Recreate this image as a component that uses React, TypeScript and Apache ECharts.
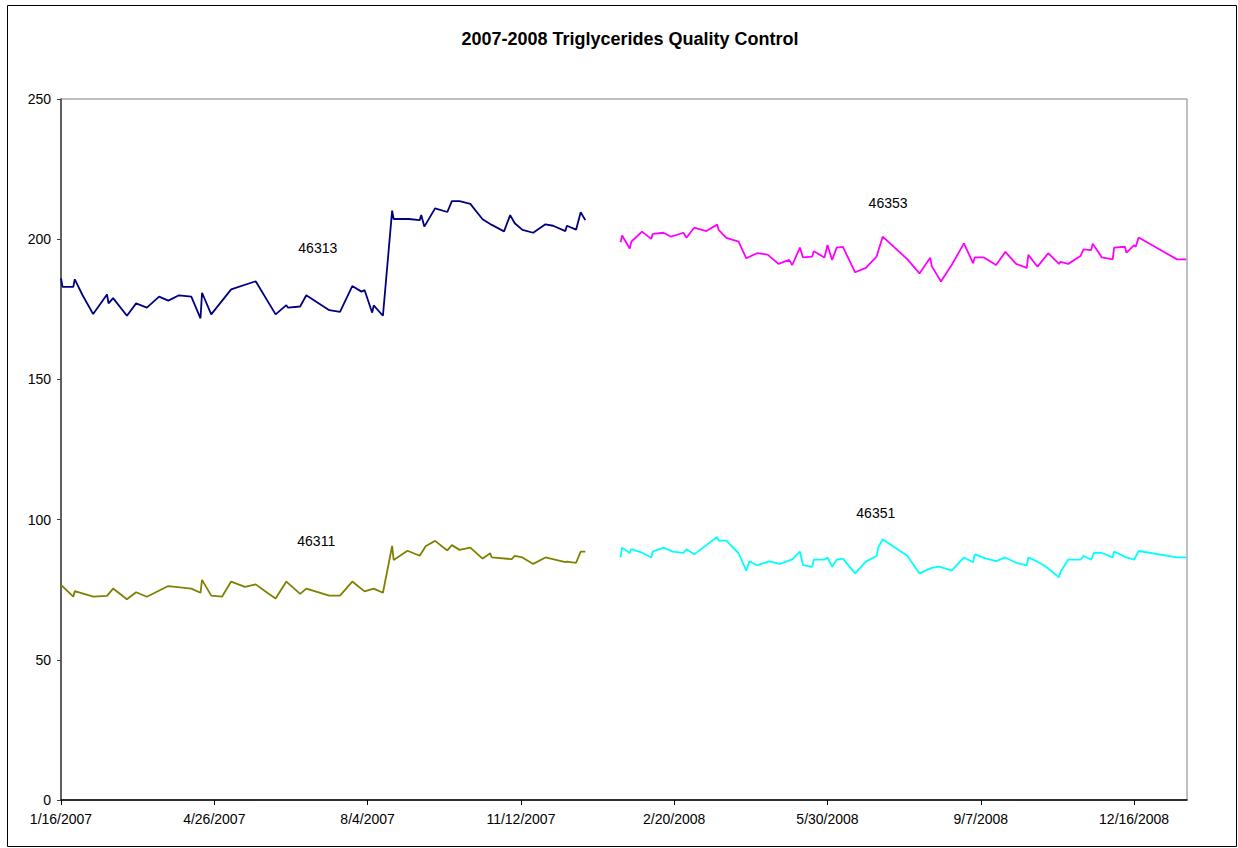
import React, { useEffect, useRef } from "react";
import * as echarts from "echarts";

// x values: days since 1/16/2007
const s46313Days = [0, 1, 8, 9, 14, 21, 30, 31, 34, 43, 49, 56, 64, 70, 77, 85, 91, 92, 98, 111, 127, 140, 147, 148, 156, 160, 175, 182, 190, 196, 198, 203, 204, 210, 216, 217, 227, 234, 235, 237, 244, 252, 255, 260, 267, 275, 281, 289, 293, 296, 301, 308, 316, 321, 329, 330, 336, 339, 342];
const s46313Values = [186.0, 183.0, 183.0, 185.7, 180.1, 173.3, 180.3, 177.1, 179.0, 172.7, 177.1, 175.6, 179.5, 178.1, 180.0, 179.5, 171.8, 180.9, 173.2, 182.1, 185.0, 173.2, 176.5, 175.6, 176.0, 180.0, 174.7, 174.1, 183.3, 181.3, 181.9, 173.8, 176.4, 172.7, 210.2, 207.2, 207.2, 206.8, 208.6, 204.5, 211.0, 209.7, 213.6, 213.6, 212.6, 207.1, 205.1, 202.8, 208.6, 205.7, 203.3, 202.3, 205.3, 204.8, 202.9, 204.8, 203.4, 209.6, 206.8];

const s46311Days = [0, 8, 9, 21, 30, 34, 43, 49, 56, 70, 85, 91, 92, 98, 105, 111, 120, 127, 135, 140, 147, 156, 160, 175, 182, 190, 198, 204, 210, 216, 217, 226, 234, 238, 244, 252, 255, 260, 267, 275, 280, 281, 294, 296, 301, 308, 316, 329, 330, 336, 339, 342];
const s46311Values = [76.7, 72.5, 74.5, 72.5, 72.8, 75.4, 71.6, 74.1, 72.5, 76.3, 75.4, 73.9, 78.5, 72.9, 72.5, 77.9, 76.0, 76.9, 73.7, 71.9, 77.9, 73.5, 75.4, 72.9, 72.9, 77.9, 74.4, 75.4, 73.9, 90.6, 85.6, 88.9, 87.1, 90.6, 92.4, 89.0, 90.9, 89.2, 90.0, 86.1, 88.0, 86.5, 85.9, 87.1, 86.5, 84.2, 86.5, 84.8, 85.0, 84.6, 88.6, 88.6];

const s46353Days = [365, 366, 371, 372, 379, 385, 386, 393, 398, 406, 408, 413, 421, 428, 429, 434, 442, 447, 454, 461, 468, 475, 477, 482, 484, 490, 491, 498, 500, 503, 506, 510, 518, 525, 532, 536, 552, 560, 567, 568, 574, 581, 589, 595, 596, 602, 610, 616, 623, 630, 631, 637, 644, 651, 652, 657, 665, 667, 672, 673, 679, 686, 687, 694, 695, 700, 701, 703, 728, 734];
const s46353Values = [198.9, 201.3, 196.7, 199.1, 202.7, 200.1, 201.9, 202.3, 200.9, 202.3, 200.5, 204.1, 202.9, 205.2, 203.3, 200.5, 199.1, 193.2, 195.0, 194.5, 191.2, 192.6, 190.8, 197.0, 193.5, 193.8, 195.7, 193.5, 197.9, 192.6, 197.0, 197.3, 188.2, 189.8, 193.8, 200.9, 192.9, 187.8, 193.4, 190.4, 184.9, 190.8, 198.5, 191.4, 193.5, 193.5, 190.8, 195.5, 191.2, 189.8, 194.4, 190.2, 195.0, 191.2, 191.9, 191.2, 194.0, 196.4, 196.1, 198.4, 193.5, 192.8, 197.0, 197.3, 195.2, 197.9, 197.3, 200.6, 192.8, 192.8];

const s46351Days = [365, 366, 371, 372, 379, 385, 386, 393, 399, 406, 408, 413, 428, 429, 434, 442, 447, 449, 454, 462, 469, 477, 482, 484, 490, 491, 498, 500, 503, 506, 510, 518, 525, 532, 533, 536, 552, 560, 568, 573, 581, 589, 595, 596, 603, 610, 616, 623, 630, 631, 636, 643, 651, 652, 657, 665, 667, 672, 674, 679, 686, 687, 695, 700, 703, 728, 734];
const s46351Values = [86.5, 90.0, 88.1, 89.5, 88.2, 86.5, 88.6, 90.0, 88.6, 88.1, 89.4, 87.6, 93.8, 92.5, 92.5, 88.0, 81.8, 85.1, 83.7, 85.1, 84.2, 85.8, 88.6, 83.8, 83.1, 85.7, 85.7, 86.5, 83.2, 85.7, 86.1, 80.8, 85.0, 87.0, 90.0, 93.0, 87.1, 80.8, 82.8, 83.2, 81.8, 86.5, 84.8, 87.6, 86.2, 85.2, 86.5, 84.6, 83.7, 86.5, 85.3, 83.0, 79.4, 81.4, 85.7, 85.7, 87.1, 85.7, 88.2, 88.1, 86.5, 88.6, 86.5, 85.7, 88.8, 86.5, 86.5];

const seriesNames = ["46313", "46311", "46353", "46351"];
const seriesColors = ["#000080", "#808000", "#FF00FF", "#00FFFF"];
// label anchor points (day, value) for series name texts
const labelDays = [167.5, 166.5, 539.5, 531.5];
const labelValues = [196.9, 92.4, 212.8, 102.4];

const xTickDays = [0, 100, 200, 300, 400, 500, 600, 700];
const title = "2007-2008 Triglycerides Quality Control";

const FONT = "'Liberation Sans', Arial, sans-serif";

function dayToLabel(d: number): string {
  const t = new Date(Date.UTC(2007, 0, 16) + Math.round(d) * 86400000);
  return `${t.getUTCMonth() + 1}/${t.getUTCDate()}/${t.getUTCFullYear()}`;
}

export default function App() {
  const ref = useRef<HTMLDivElement>(null);
  useEffect(() => {
    if (!ref.current) return;
    const chart = echarts.init(ref.current, undefined, { renderer: "svg" });
    const allDays = [s46313Days, s46311Days, s46353Days, s46351Days];
    const allVals = [s46313Values, s46311Values, s46353Values, s46351Values];
    chart.setOption({
      animation: false,
      backgroundColor: "#ffffff",
      textStyle: { fontFamily: FONT },
      graphic: [
        {
          type: "rect",
          shape: { x: 7.5, y: 5.5, width: 1229, height: 841 },
          style: { fill: "none", stroke: "#000000", lineWidth: 1 },
          silent: true,
        },
        {
          type: "text",
          x: 630,
          y: 39,
          style: {
            text: title,
            fill: "#000000",
            font: `bold 18px ${FONT}`,
            textAlign: "center",
            textVerticalAlign: "middle",
          },
        },
      ],
      grid: {
        left: 61,
        top: 99,
        width: 1126,
        height: 701,
        show: true,
        borderColor: "#808080",
        borderWidth: 1,
        backgroundColor: "transparent",
      },
      xAxis: {
        type: "value",
        min: 0,
        max: 734.5,
        interval: 100,
        axisLine: { show: true, onZero: false, lineStyle: { color: "#000000", width: 1.5 } },
        axisTick: { show: true, inside: false, length: 5, customValues: xTickDays, lineStyle: { color: "#000000" } },
        axisLabel: {
          customValues: xTickDays,
          formatter: (v: number) => dayToLabel(v),
          color: "#000000",
          fontSize: 14,
          fontFamily: FONT,
          margin: 12,
        },
        splitLine: { show: false },
      },
      yAxis: {
        type: "value",
        min: 0,
        max: 250,
        interval: 50,
        axisLine: { show: true, lineStyle: { color: "#404040", width: 1.5 } },
        axisTick: { show: true, inside: false, length: 4, lineStyle: { color: "#404040" } },
        axisLabel: { color: "#000000", fontSize: 14, fontFamily: FONT, margin: 10 },
        splitLine: { show: false },
      },
      series: seriesNames.map((name, i) => ({
        name,
        type: "line",
        showSymbol: false,
        symbol: "none",
        lineStyle: { color: seriesColors[i], width: 1.8 },
        itemStyle: { color: seriesColors[i] },
        data: allDays[i].map((d, k) => [d, allVals[i][k]]),
        markPoint: {
          symbol: "circle",
          symbolSize: 0,
          itemStyle: { color: "transparent" },
          label: {
            show: true,
            position: "inside",
            formatter: name,
            color: "#000000",
            fontSize: 14,
            fontFamily: FONT,
          },
          data: [{ coord: [labelDays[i], labelValues[i]] }],
        },
      })),
    });
    return () => chart.dispose();
  }, []);
  return (
    <div
      ref={ref}
      style={{ position: "fixed", left: 0, top: 0, width: 1238, height: 848 }}
    />
  );
}
